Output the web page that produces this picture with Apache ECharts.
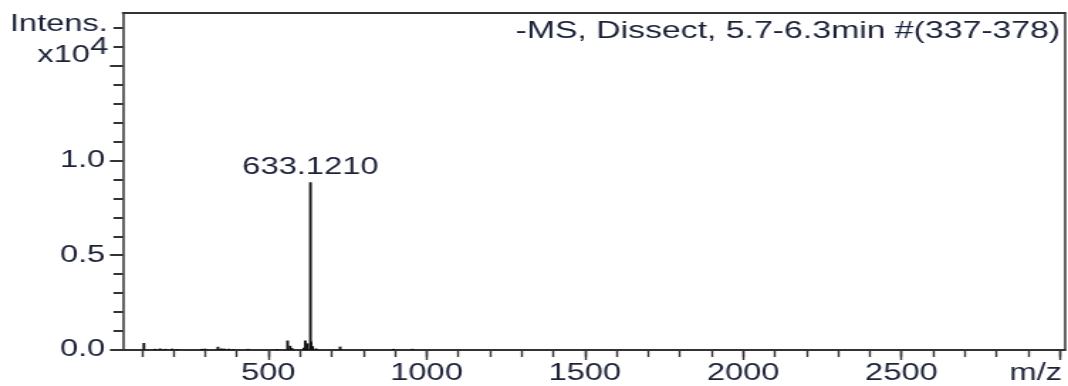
<!DOCTYPE html>
<html><head><meta charset="utf-8">
<script src="https://cdn.jsdelivr.net/npm/echarts@6/dist/echarts.min.js"></script>
<style>
html,body{margin:0;padding:0;background:#fff;overflow:hidden;}
#wrap{position:absolute;left:0;top:0;width:1068px;height:386px;overflow:hidden;background:#fff;}
#chart{position:absolute;left:0;top:0;width:752px;height:386px;transform:scaleX(1.420213);transform-origin:0 0;}
</style></head><body><div id="wrap"><div id="chart"></div></div>
<script>
// ---- data ----
const peakMz        = [107, 142, 158, 175, 196, 212, 289, 300, 341, 352, 362, 375, 388, 436, 527, 561, 569, 575, 612, 617, 624, 633.1210, 635, 640, 651, 727, 895, 955];
const peakIntensity = [0.037, 0.006, 0.008, 0.006, 0.007, 0.005, 0.006, 0.007, 0.017, 0.008, 0.007, 0.006, 0.005, 0.006, 0.005, 0.050, 0.022, 0.010, 0.012, 0.050, 0.035, 0.885, 0.045, 0.020, 0.008, 0.018, 0.006, 0.006];
const annotatedMz    = [633.1210];
const annotatedText  = ['633.1210'];
const xTickValues  = [100,200,300,400,500,600,700,800,900,1000,1100,1200,1300,1400,1500,1600,1700,1800,1900,2000,2100,2200,2300,2400,2500,2600,2700,2800,2900,3000];
const xMajorValues = [500,1000,1500,2000,2500,3000];
const xLabelValues = [500,1000,1500,2000,2500];
const yTickValues  = [0,0.1,0.2,0.3,0.4,0.5,0.6,0.7,0.8,0.9,1.0,1.1,1.2,1.3,1.4,1.5,1.6,1.7];
const yMajorValues = [0,0.5,1.0,1.5];
const yLabelValues = [0,0.5,1.0];
const titleText = '-MS, Dissect, 5.7-6.3min #(337-378)';
const yName1 = 'Intens.';
const yName2 = 'x10';
const yName3 = '4';
const xName = 'm/z';

// ---- chart ----
const FONT = 'Liberation Sans, Arial, Helvetica, sans-serif';
const TXT = '#1c2338';
const AX = '#333333';
const FS = 23;
const X_MIN = 41, X_MAX = 3017, Y_MIN = 0, Y_MAX = 1.778;

const chart = echarts.init(document.getElementById('chart'), null, {renderer: 'canvas'});
const data = peakMz.map((m, i) => {
  const k = annotatedMz.indexOf(m);
  const item = {value: [m, peakIntensity[i]]};
  if (k >= 0) {
    item.label = {show: true, position: 'top', distance: 3, formatter: annotatedText[k],
      color: TXT, fontSize: FS, fontFamily: FONT};
  }
  return item;
});

const hidden = {show: false};
chart.setOption({
  animation: false,
  backgroundColor: '#fff',
  grid: {left: 86.6, right: 2.1, top: 13, bottom: 36, containLabel: false},
  xAxis: [
    {type: 'value', position: 'bottom', min: X_MIN, max: X_MAX,
     axisLine: {show: true, onZero: false, lineStyle: {color: AX, width: 2}},
     axisTick: {show: true, inside: false, length: 7, customValues: xTickValues, lineStyle: {color: AX, width: 1.4}},
     axisLabel: {show: true, customValues: xLabelValues, margin: 12, color: TXT, fontSize: FS, fontFamily: FONT,
       formatter: v => String(v)},
     splitLine: hidden},
    {type: 'value', position: 'top', min: X_MIN, max: X_MAX,
     axisLine: {show: true, onZero: false, lineStyle: {color: AX, width: 2}},
     axisTick: hidden, axisLabel: hidden, splitLine: hidden},
    {type: 'value', position: 'bottom', min: X_MIN, max: X_MAX,
     axisLine: {show: false, onZero: false},
     axisTick: {show: true, length: 10, customValues: xMajorValues, lineStyle: {color: AX, width: 1.4}},
     axisLabel: hidden, splitLine: hidden}
  ],
  yAxis: [
    {type: 'value', position: 'left', min: Y_MIN, max: Y_MAX,
     axisLine: {show: true, onZero: false, lineStyle: {color: AX, width: 1.5}},
     axisTick: {show: true, length: 6.7, customValues: yTickValues, lineStyle: {color: AX, width: 2}},
     axisLabel: {show: true, customValues: yLabelValues, margin: 12.5, color: TXT, fontSize: FS, fontFamily: FONT,
       formatter: v => v.toFixed(1)},
     splitLine: hidden},
    {type: 'value', position: 'right', min: Y_MIN, max: Y_MAX,
     axisLine: {show: true, onZero: false, lineStyle: {color: AX, width: 1.5}},
     axisTick: hidden, axisLabel: hidden, splitLine: hidden},
    {type: 'value', position: 'left', min: Y_MIN, max: Y_MAX,
     axisLine: {show: false, onZero: false},
     axisTick: {show: true, length: 9.2, customValues: yMajorValues, lineStyle: {color: AX, width: 2}},
     axisLabel: hidden, splitLine: hidden}
  ],
  series: [{
    type: 'bar', xAxisIndex: 0, yAxisIndex: 0,
    barWidth: 1.9, barGap: '-100%',
    itemStyle: {color: '#111111'},
    label: {show: false},
    data: data
  }],
  graphic: [
    {type: 'text', x: 76, y: 25, style: {text: yName1, align: 'right', verticalAlign: 'middle', fill: TXT, fontSize: FS, fontFamily: FONT}},
    {type: 'text', x: 63.4, y: 56, style: {text: yName2, align: 'right', verticalAlign: 'middle', fill: TXT, fontSize: FS, fontFamily: FONT}},
    {type: 'text', x: 76.3, y: 47.5, style: {text: yName3, align: 'right', verticalAlign: 'middle', fill: TXT, fontSize: FS, fontFamily: FONT}},
    {type: 'text', x: 746.5, y: 31, style: {text: titleText, align: 'right', verticalAlign: 'middle', fill: TXT, fontSize: 23.8, fontFamily: FONT}},
    {type: 'text', x: 747.8, y: 373.5, style: {text: xName, align: 'right', verticalAlign: 'middle', fill: TXT, fontSize: FS, fontFamily: FONT}}
  ]
});
</script></body></html>
